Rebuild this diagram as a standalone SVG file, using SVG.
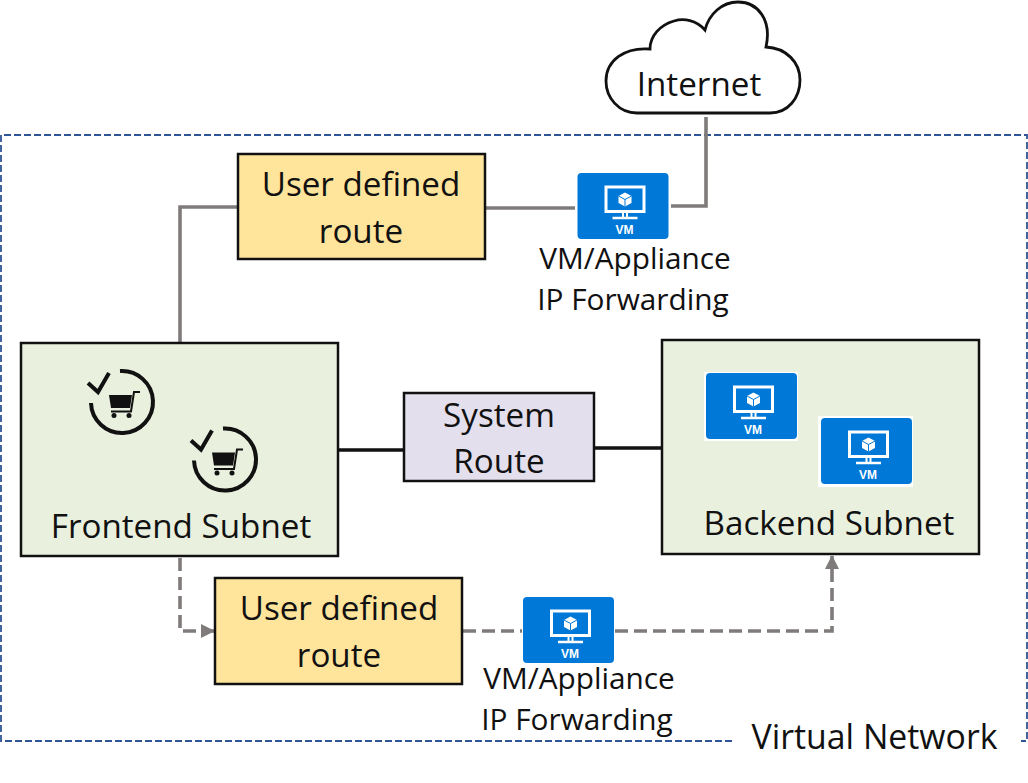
<svg xmlns="http://www.w3.org/2000/svg" width="1028" height="783" viewBox="0 0 1028 783">
<style>
text{font-family:"Open Sans","Noto Sans","Liberation Sans",sans-serif;fill:#111;text-anchor:middle}
.big{font-size:33.200px}
.mid{font-size:29.800px}
.box{stroke:#111;stroke-width:2.500}
.udr{fill:#ffe49b}
.sub{fill:#e9f0de}
.sys{fill:#e3dfec}
.g{fill:none;stroke:#7f7b7b;stroke-width:3.600}
.d{stroke-dasharray:13 6}
.vmt{font-family:"Liberation Sans",sans-serif;font-size:12px;font-weight:700;fill:#fff}
</style>
<defs>
<marker id="ah" markerUnits="userSpaceOnUse" markerWidth="14" markerHeight="14" refX="13" refY="7" orient="auto"><path d="M0 0L14 7L0 14Z" fill="#7f7b7b"/></marker>
<g id="vm">
<rect x="0" y="0" width="91" height="66" rx="4" fill="#0078d7"/>
<rect x="28.500" y="14" width="38" height="24.500" fill="none" stroke="#fff" stroke-width="3"/>
<path d="M47.500 19.500l6.500 3.500v7l-6.500 3.500l-6.500-3.500v-7z" fill="#fff"/>
<path d="M41 23l6.500 3.500l6.500-3.500M47.500 26.500v7" fill="none" stroke="#0078d7" stroke-width="1"/>
<path d="M45.500 40v4M49.500 40v4" stroke="#fff" stroke-width="2"/>
<path d="M35 45h25" stroke="#fff" stroke-width="2.500"/>
<text class="vmt" x="47" y="61">VM</text>
</g>
<g id="cart">
<path d="M-2-30.900A31 31 0 1 1-31 1" fill="none" stroke="#111" stroke-width="4"/>
<path d="M-34-19l10 9l11-19" fill="none" stroke="#111" stroke-width="4"/>
<path d="M-13-7H10L8 6H-11Z" fill="#111"/>
<path d="M-11 9.500H9L12-10H18" fill="none" stroke="#111" stroke-width="2"/>
<circle cx="-8" cy="13.500" r="2.500" fill="#111"/><circle cx="7" cy="13.500" r="2.500" fill="#111"/>
</g>
</defs>
<rect width="1028" height="783" fill="#fff"/>
<g id="virtual-network">
<path d="M732 741H1V135H1027V741H1021" fill="none" stroke="#2f5597" stroke-width="1.800" stroke-dasharray="7 3"/>
<text x="874.500" y="749" style="font-size:33.800px">Virtual Network</text>
</g>
<g id="connectors">
<path class="g" d="M180 342V207H237"/>
<path class="g" d="M485 208H575"/>
<path class="g" d="M671 206H706V117"/>
<path d="M339 450H404M594 448H662" fill="none" stroke="#111" stroke-width="3.500"/>
<path class="g d" d="M180 558V631H214" marker-end="url(#ah)"/>
<path class="g d" d="M463 631H522"/>
<path class="g d" d="M615 631H832V556" marker-end="url(#ah)"/>
</g>
<g id="internet">
<path d="M637 113H770C788 113 800 98 800 80C800 62 786 48 766 47C772 20 758 2 738 2C722 2 709 14 705 30C696 20 684 18 674 21C660 25 650 36 650 49C625 47 606 60 606 81C606 98 619 113 637 113Z" fill="#fff" stroke="#111" stroke-width="2.800"/>
<text class="big" x="699" y="96">Internet</text>
</g>
<g id="udr-top">
<rect class="box udr" x="238" y="154" width="247" height="105"/>
<text class="big" x="361" y="196">User defined</text>
<text class="big" x="361" y="243">route</text>
</g>
<g id="vm-top">
<use href="#vm" x="577.500" y="173"/>
<text class="mid" x="635" y="268.500">VM/Appliance</text>
<text class="mid" x="633" y="309.500">IP Forwarding</text>
</g>
<g id="frontend-subnet">
<rect class="box sub" x="21" y="343" width="317" height="213"/>
<use href="#cart" x="122" y="402"/>
<use href="#cart" x="225" y="459.500"/>
<text class="big" x="181" y="538">Frontend Subnet</text>
</g>
<g id="system-route">
<rect class="box sys" x="404" y="393" width="190" height="88"/>
<text class="big" x="499" y="427">System</text>
<text class="big" x="499" y="473">Route</text>
</g>
<g id="backend-subnet">
<rect class="box sub" x="662" y="340" width="317" height="214"/>
<rect x="704" y="372" width="94" height="69" fill="#fff"/>
<use href="#vm" x="706" y="373"/>
<rect x="818" y="416" width="95" height="71" fill="#fff"/>
<use href="#vm" x="821" y="418"/>
<text class="big" x="829" y="535">Backend Subnet</text>
</g>
<g id="udr-bottom">
<rect class="box udr" x="215" y="578" width="247" height="106"/>
<text class="big" x="339" y="620">User defined</text>
<text class="big" x="339" y="667">route</text>
</g>
<g id="vm-bottom">
<use href="#vm" x="523" y="597"/>
<text class="mid" x="579" y="688.500">VM/Appliance</text>
<text class="mid" x="577" y="729.500">IP Forwarding</text>
</g>
</svg>
